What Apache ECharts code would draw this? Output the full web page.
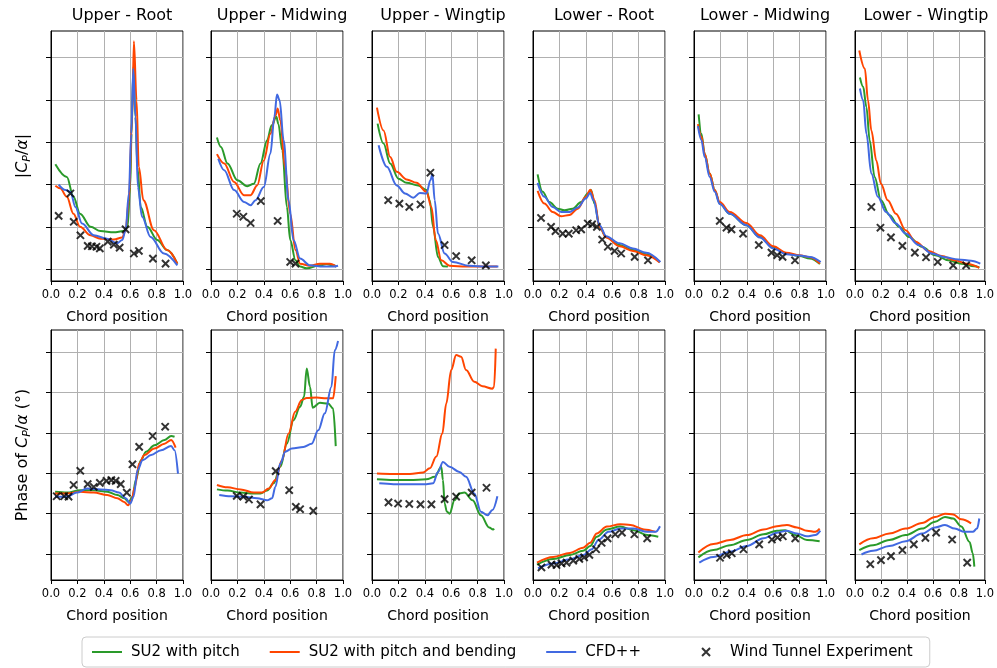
<!DOCTYPE html>
<html><head><meta charset="utf-8">
<script src="https://cdn.jsdelivr.net/npm/echarts@6/dist/echarts.min.js"></script>
<style>html,body{margin:0;padding:0;background:#fff}#c{width:997px;height:668px}</style>
</head><body><div id="c"></div><script>
const panelTitles = ['Upper - Root','Upper - Midwing','Upper - Wingtip','Lower - Root','Lower - Midwing','Lower - Wingtip'];
const seriesNames = ['SU2 with pitch','SU2 with pitch and bending','CFD++','Wind Tunnel Experiment'];
const xTicks = [0, 0.2, 0.4, 0.6, 0.8, 1.0];
const yTicks = [0, 1, 2, 3, 4, 5];
const xLabel = 'Chord position';

// ---- |Cp/alpha| (top row) ----
const magUR_pitch = [[0.033,2.48],[0.12,2.18],[0.17,1.71],[0.22,1.31],[0.30,1.0],[0.375,0.90],[0.476,0.87],[0.55,0.90],[0.58,1.0],[0.60,1.94],[0.61,3.2],[0.625,4.8],[0.64,3.6],[0.655,2.4],[0.68,1.47],[0.73,1.0],[0.805,0.69],[0.88,0.45],[0.957,0.13]];
const magUR_bend = [[0.033,1.97],[0.07,1.91],[0.12,1.71],[0.17,1.31],[0.22,1.0],[0.30,0.80],[0.375,0.72],[0.476,0.70],[0.54,0.75],[0.565,0.92],[0.59,1.63],[0.615,3.6],[0.628,5.39],[0.648,3.99],[0.665,2.42],[0.70,1.63],[0.78,0.92],[0.88,0.45],[0.957,0.13]];
const magUR_cfd = [[0.058,2.0],[0.11,1.87],[0.147,1.83],[0.185,1.47],[0.235,1.08],[0.324,0.80],[0.425,0.72],[0.50,0.61],[0.54,0.69],[0.565,0.92],[0.59,1.79],[0.608,3.2],[0.623,4.74],[0.64,3.6],[0.658,1.94],[0.69,1.24],[0.754,0.76],[0.856,0.37],[0.957,0.09]];
const magUR_exp = [[0.058,1.26],[0.147,1.79],[0.172,1.12],[0.223,0.80],[0.278,0.55],[0.31,0.54],[0.344,0.53],[0.37,0.49],[0.43,0.65],[0.476,0.58],[0.52,0.51],[0.565,0.94],[0.628,0.37],[0.666,0.43],[0.772,0.25],[0.868,0.13]];

const magUM_pitch = [[0.045,3.11],[0.075,2.89],[0.125,2.50],[0.20,2.10],[0.275,1.96],[0.325,2.02],[0.375,2.50],[0.425,3.05],[0.46,3.40],[0.495,3.60],[0.51,3.44],[0.54,2.81],[0.575,1.47],[0.60,0.69],[0.64,0.21],[0.675,0.06],[0.725,0.02],[0.825,0.09],[0.875,0.12],[0.925,0.09],[0.95,0.06]];
const magUM_bend = [[0.045,2.72],[0.10,2.50],[0.175,2.06],[0.25,1.75],[0.30,1.75],[0.35,1.98],[0.40,2.57],[0.45,3.20],[0.49,3.64],[0.505,3.80],[0.525,3.52],[0.56,2.42],[0.60,1.31],[0.64,0.45],[0.675,0.13],[0.75,0.08],[0.825,0.13],[0.90,0.13],[0.95,0.06]];
const magUM_cfd = [[0.055,2.61],[0.10,2.34],[0.175,1.87],[0.25,1.59],[0.30,1.51],[0.3375,1.63],[0.40,1.94],[0.45,2.73],[0.48,3.60],[0.50,4.13],[0.52,3.99],[0.55,3.05],[0.5875,1.63],[0.625,0.69],[0.675,0.25],[0.75,0.09],[0.85,0.06],[0.925,0.06],[0.9625,0.08]];
const magUM_exp = [[0.195,1.31],[0.245,1.24],[0.30,1.09],[0.3775,1.61],[0.505,1.14],[0.60,0.17],[0.64,0.13]];

const magUW_pitch = [[0.0425,3.44],[0.0875,2.97],[0.1375,2.50],[0.20,2.14],[0.2625,2.04],[0.35,1.98],[0.4125,1.87],[0.4375,1.63],[0.4625,1.0],[0.50,0.29],[0.5375,0.07],[0.575,0.06]];
const magUW_bend = [[0.0375,3.82],[0.0875,3.28],[0.1375,2.65],[0.1875,2.30],[0.2625,2.12],[0.3375,2.04],[0.4125,1.83],[0.45,1.47],[0.4825,0.69],[0.525,0.21],[0.5875,0.08],[0.7125,0.06],[0.8625,0.06],[0.95,0.06]];
const magUW_cfd = [[0.05,2.93],[0.1125,2.42],[0.1875,1.98],[0.25,1.79],[0.3125,1.69],[0.3625,1.80],[0.4125,1.79],[0.4425,2.10],[0.4575,2.24],[0.475,1.63],[0.50,0.84],[0.55,0.37],[0.6125,0.17],[0.7375,0.08],[0.8625,0.06],[0.9575,0.06]];
const magUW_exp = [[0.1225,1.63],[0.2075,1.55],[0.2825,1.47],[0.3675,1.53],[0.4425,2.28],[0.55,0.57],[0.6375,0.31],[0.755,0.21],[0.8625,0.09]];

const magLR_pitch = [[0.035,2.24],[0.073,1.83],[0.124,1.59],[0.187,1.43],[0.238,1.39],[0.30,1.43],[0.365,1.59],[0.415,1.79],[0.44,1.87],[0.466,1.55],[0.504,1.0],[0.554,0.76],[0.656,0.57],[0.757,0.45],[0.858,0.35],[0.96,0.17]];
const magLR_bend = [[0.035,1.85],[0.086,1.55],[0.149,1.35],[0.213,1.25],[0.276,1.28],[0.339,1.43],[0.40,1.71],[0.435,1.88],[0.466,1.63],[0.504,1.0],[0.554,0.75],[0.656,0.54],[0.757,0.43],[0.858,0.33],[0.96,0.16]];
const magLR_cfd = [[0.035,2.04],[0.086,1.71],[0.149,1.47],[0.213,1.35],[0.276,1.35],[0.339,1.46],[0.40,1.67],[0.433,1.80],[0.458,1.63],[0.504,1.04],[0.554,0.78],[0.656,0.61],[0.757,0.49],[0.858,0.39],[0.965,0.17]];
const magLR_exp = [[0.061,1.21],[0.137,1.0],[0.17,0.90],[0.225,0.84],[0.271,0.84],[0.327,0.92],[0.365,0.94],[0.415,1.08],[0.448,1.06],[0.484,1.0],[0.524,0.70],[0.567,0.53],[0.618,0.43],[0.668,0.37],[0.77,0.29],[0.871,0.21]];

const magLM_pitch = [[0.035,3.66],[0.056,3.20],[0.081,2.73],[0.119,2.26],[0.157,1.87],[0.195,1.55],[0.271,1.31],[0.397,1.04],[0.499,0.76],[0.60,0.51],[0.70,0.37],[0.80,0.31],[0.878,0.25],[0.954,0.12]];
const magLM_bend = [[0.03,3.43],[0.056,3.13],[0.081,2.73],[0.119,2.26],[0.157,1.87],[0.195,1.59],[0.271,1.35],[0.397,1.09],[0.499,0.80],[0.60,0.54],[0.70,0.39],[0.80,0.33],[0.878,0.28],[0.954,0.13]];
const magLM_cfd = [[0.03,3.38],[0.056,3.05],[0.081,2.65],[0.119,2.18],[0.157,1.83],[0.195,1.54],[0.271,1.31],[0.397,1.04],[0.499,0.75],[0.60,0.49],[0.70,0.35],[0.80,0.32],[0.878,0.29],[0.96,0.17]];
const magLM_exp = [[0.195,1.14],[0.246,0.98],[0.284,0.94],[0.372,0.84],[0.491,0.57],[0.587,0.39],[0.63,0.33],[0.671,0.29],[0.765,0.21]];

const magLW_pitch = [[0.038,4.53],[0.063,4.31],[0.088,3.83],[0.113,3.05],[0.151,2.18],[0.20,1.63],[0.264,1.28],[0.34,1.0],[0.416,0.76],[0.516,0.53],[0.617,0.33],[0.718,0.21],[0.819,0.13],[0.92,0.07],[0.957,0.04]];
const magLW_bend = [[0.033,5.17],[0.076,4.74],[0.10,3.99],[0.126,3.28],[0.164,2.57],[0.20,2.02],[0.252,1.63],[0.315,1.31],[0.39,0.92],[0.466,0.65],[0.567,0.43],[0.668,0.31],[0.768,0.21],[0.869,0.12],[0.957,0.03]];
const magLW_cfd = [[0.038,4.27],[0.063,3.99],[0.088,3.20],[0.126,2.26],[0.176,1.71],[0.239,1.35],[0.315,1.08],[0.39,0.84],[0.491,0.57],[0.592,0.37],[0.693,0.28],[0.794,0.23],[0.894,0.20],[0.965,0.13]];
const magLW_exp = [[0.126,1.47],[0.196,0.98],[0.277,0.75],[0.365,0.55],[0.461,0.39],[0.547,0.28],[0.637,0.17],[0.756,0.09],[0.856,0.09]];

// ---- Phase (bottom row) ----
const phUR_pitch = [[0.031,1.54],[0.12,1.52],[0.22,1.58],[0.324,1.58],[0.426,1.54],[0.503,1.46],[0.554,1.38],[0.59,1.29],[0.617,1.42],[0.643,1.83],[0.68,2.32],[0.72,2.53],[0.783,2.69],[0.86,2.82],[0.91,2.92],[0.936,2.90]];
const phUR_bend = [[0.031,1.50],[0.12,1.50],[0.22,1.54],[0.324,1.52],[0.426,1.46],[0.503,1.38],[0.554,1.29],[0.584,1.21],[0.61,1.33],[0.635,1.66],[0.668,2.24],[0.707,2.45],[0.783,2.61],[0.86,2.73],[0.91,2.82],[0.944,2.63]];
const phUR_cfd = [[0.031,1.42],[0.12,1.42],[0.196,1.52],[0.273,1.62],[0.375,1.60],[0.452,1.58],[0.515,1.52],[0.566,1.38],[0.60,1.25],[0.625,1.42],[0.656,2.08],[0.694,2.32],[0.758,2.45],[0.834,2.57],[0.91,2.67],[0.936,2.57],[0.962,1.99]];
const phUR_exp = [[0.043,1.43],[0.10,1.43],[0.133,1.42],[0.171,1.71],[0.222,2.06],[0.278,1.73],[0.324,1.66],[0.37,1.76],[0.42,1.81],[0.457,1.83],[0.49,1.81],[0.528,1.73],[0.574,1.52],[0.617,2.22],[0.668,2.65],[0.77,2.92],[0.865,3.15]];

const phUM_pitch = [[0.045,1.60],[0.125,1.57],[0.225,1.52],[0.30,1.50],[0.375,1.50],[0.425,1.57],[0.475,1.75],[0.525,2.16],[0.575,2.73],[0.625,3.31],[0.675,3.64],[0.705,3.89],[0.725,4.59],[0.75,4.14],[0.77,3.62],[0.825,3.74],[0.8875,3.72],[0.925,3.60],[0.945,2.67]];
const phUM_bend = [[0.045,1.71],[0.125,1.65],[0.225,1.60],[0.325,1.52],[0.3875,1.52],[0.4375,1.62],[0.4875,1.83],[0.5375,2.32],[0.5875,2.98],[0.6375,3.52],[0.6875,3.81],[0.725,3.86],[0.80,3.87],[0.875,3.85],[0.925,3.85],[0.945,4.40]];
const phUM_cfd = [[0.0625,1.46],[0.15,1.43],[0.25,1.42],[0.35,1.38],[0.425,1.33],[0.4625,1.38],[0.4875,1.66],[0.525,2.24],[0.5625,2.53],[0.6125,2.61],[0.70,2.65],[0.7625,2.73],[0.8125,3.06],[0.8625,3.48],[0.9125,4.14],[0.9375,5.04],[0.9625,5.27]];
const phUM_exp = [[0.195,1.44],[0.245,1.42],[0.2875,1.35],[0.375,1.23],[0.49,2.05],[0.5925,1.58],[0.6425,1.17],[0.675,1.11],[0.775,1.07]];

const phUW_pitch = [[0.0375,1.85],[0.1625,1.83],[0.2875,1.83],[0.4125,1.85],[0.475,1.91],[0.525,2.16],[0.5375,1.83],[0.55,1.25],[0.5675,1.05],[0.5875,1.00],[0.625,1.33],[0.6625,1.50],[0.70,1.52],[0.7625,1.33],[0.825,0.96],[0.8875,0.66],[0.9175,0.61],[0.925,0.63]];
const phUW_bend = [[0.0375,1.99],[0.1625,1.98],[0.2875,1.98],[0.3875,2.02],[0.4375,2.12],[0.4875,2.41],[0.5325,2.98],[0.5625,3.72],[0.60,4.55],[0.6375,4.92],[0.675,4.88],[0.7125,4.55],[0.775,4.26],[0.8375,4.15],[0.9125,4.09],[0.925,4.14],[0.9375,5.08]];
const phUW_cfd = [[0.055,1.75],[0.1625,1.73],[0.2875,1.73],[0.4125,1.73],[0.4625,1.75],[0.50,2.03],[0.5375,2.28],[0.5875,2.16],[0.6625,2.03],[0.7125,1.91],[0.775,1.50],[0.825,1.05],[0.875,0.96],[0.9125,1.09],[0.95,1.43]];
const phUW_exp = [[0.125,1.28],[0.1975,1.25],[0.2825,1.24],[0.3675,1.23],[0.45,1.23],[0.55,1.36],[0.6375,1.42],[0.755,1.52],[0.8675,1.64]];

const phLR_pitch = [[0.03,-0.26],[0.153,-0.12],[0.28,-0.02],[0.38,0.08],[0.433,0.20],[0.483,0.43],[0.56,0.61],[0.66,0.68],[0.763,0.59],[0.865,0.47],[0.949,0.43]];
const phLR_bend = [[0.03,-0.21],[0.153,-0.07],[0.28,0.03],[0.38,0.16],[0.433,0.28],[0.483,0.51],[0.56,0.68],[0.66,0.74],[0.738,0.72],[0.84,0.61],[0.929,0.55]];
const phLR_cfd = [[0.038,-0.35],[0.153,-0.23],[0.28,-0.13],[0.38,-0.02],[0.445,0.12],[0.496,0.35],[0.573,0.55],[0.66,0.63],[0.763,0.63],[0.865,0.55],[0.929,0.55],[0.962,0.69]];
const phLR_exp = [[0.064,-0.33],[0.14,-0.26],[0.178,-0.27],[0.216,-0.23],[0.254,-0.21],[0.305,-0.16],[0.351,-0.12],[0.387,-0.08],[0.427,-0.02],[0.478,0.12],[0.52,0.28],[0.565,0.39],[0.623,0.49],[0.674,0.53],[0.768,0.49],[0.865,0.39]];

const phLM_pitch = [[0.033,-0.08],[0.147,0.10],[0.273,0.22],[0.40,0.35],[0.527,0.49],[0.628,0.58],[0.691,0.59],[0.767,0.47],[0.856,0.35],[0.952,0.32]];
const phLM_bend = [[0.033,0.04],[0.147,0.25],[0.273,0.35],[0.40,0.47],[0.527,0.61],[0.628,0.69],[0.704,0.72],[0.78,0.66],[0.856,0.58],[0.919,0.55],[0.952,0.63]];
const phLM_cfd = [[0.04,-0.21],[0.147,-0.07],[0.273,0.06],[0.40,0.20],[0.527,0.39],[0.628,0.53],[0.704,0.58],[0.78,0.51],[0.856,0.44],[0.919,0.47],[0.957,0.58]];
const phLM_exp = [[0.197,-0.09],[0.248,-0.02],[0.286,0.02],[0.375,0.12],[0.494,0.24],[0.59,0.36],[0.633,0.41],[0.673,0.44],[0.767,0.39]];

const phLW_pitch = [[0.033,0.10],[0.139,0.22],[0.264,0.35],[0.39,0.47],[0.516,0.63],[0.617,0.80],[0.693,0.92],[0.756,0.88],[0.819,0.68],[0.882,0.30],[0.907,0.02],[0.919,-0.31]];
const phLW_bend = [[0.033,0.24],[0.139,0.39],[0.264,0.51],[0.39,0.63],[0.516,0.77],[0.617,0.92],[0.693,1.0],[0.756,0.98],[0.819,0.86],[0.894,0.76]];
const phLW_cfd = [[0.05,-0.01],[0.139,0.08],[0.264,0.20],[0.39,0.32],[0.516,0.51],[0.617,0.66],[0.693,0.72],[0.768,0.63],[0.844,0.55],[0.907,0.55],[0.94,0.63],[0.957,0.88]];
const phLW_exp = [[0.118,-0.25],[0.20,-0.15],[0.277,-0.05],[0.365,0.10],[0.453,0.24],[0.542,0.40],[0.625,0.53],[0.748,0.36],[0.864,-0.21]];

const panels = [
  [magUR_pitch, magUR_bend, magUR_cfd, magUR_exp],
  [magUM_pitch, magUM_bend, magUM_cfd, magUM_exp],
  [magUW_pitch, magUW_bend, magUW_cfd, magUW_exp],
  [magLR_pitch, magLR_bend, magLR_cfd, magLR_exp],
  [magLM_pitch, magLM_bend, magLM_cfd, magLM_exp],
  [magLW_pitch, magLW_bend, magLW_cfd, magLW_exp],
  [phUR_pitch, phUR_bend, phUR_cfd, phUR_exp],
  [phUM_pitch, phUM_bend, phUM_cfd, phUM_exp],
  [phUW_pitch, phUW_bend, phUW_cfd, phUW_exp],
  [phLR_pitch, phLR_bend, phLR_cfd, phLR_exp],
  [phLM_pitch, phLM_bend, phLM_cfd, phLM_exp],
  [phLW_pitch, phLW_bend, phLW_cfd, phLW_exp]
];

// ---- layout / style ----
const FONT = 'DejaVu Sans';
const colors = ['#2a9a2a', '#ff4500', '#4169e1', '#000000'];
const colLefts = [51, 211, 372, 533, 694, 855];
const panelW = 132, panelH = 250;
const rowTops = [31, 330];
const rowRange = [[-0.28, 5.63], [-0.64, 5.54]];
const xPath = 'path://M0,0L0,0M10,10L10,10M2,2L8,8M8,2L2,8';
const legendLineIcon = 'path://M0,0L0,0M30,14L30,14M0,6L30,6L30,8L0,8Z';
const legendXIcon = 'path://M0,0L0,0M30,14L30,14M11,3L19,11M19,3L11,11';

const grids = [], xAxes = [], yAxes = [], series = [], titles = [];
for (let p = 0; p < 12; p++) {
  const row = Math.floor(p / 6), col = p % 6;
  grids.push({left: colLefts[col], top: rowTops[row], width: panelW, height: panelH,
    show: true, borderColor: '#000', borderWidth: 1, backgroundColor: 'transparent'});
  xAxes.push({type: 'value', gridIndex: p, min: xTicks[0], max: xTicks[xTicks.length - 1], interval: 0.2,
    name: xLabel, nameLocation: 'middle', nameGap: 29,
    nameTextStyle: {fontFamily: FONT, fontSize: 14, color: '#000'},
    axisLine: {show: true, onZero: false, lineStyle: {color: '#000'}},
    axisTick: {show: true, length: 4, lineStyle: {color: '#000'}},
    axisLabel: {fontFamily: FONT, fontSize: 11.5, color: '#000', margin: 8, formatter: v => v.toFixed(1),
      showMinLabel: true, showMaxLabel: true, hideOverlap: false},
    splitLine: {show: true, lineStyle: {color: '#b0b0b0', width: 1}}});
  const y = {type: 'value', gridIndex: p, min: rowRange[row][0], max: rowRange[row][1],
    axisLine: {show: true, onZero: false, lineStyle: {color: '#000'}},
    axisTick: {show: true, length: 5, customValues: yTicks, lineStyle: {color: '#000'}},
    axisLabel: {show: false},
    splitLine: {show: true, lineStyle: {color: '#b0b0b0', width: 1}}};
  if (col === 0) {
    y.name = row === 0 ? '|{i|C}{s|P}/{i|α}|' : 'Phase of {i|C}{s|P}/{i|α} (°)';
    y.nameLocation = 'middle';
    y.nameRotate = 90;
    y.nameGap = 18;
    y.nameTextStyle = {fontFamily: FONT, fontSize: 16, color: '#000', lineHeight: 20,
      rich: {
        i: {fontFamily: FONT, fontSize: 16, fontStyle: 'italic', color: '#000', lineHeight: 20},
        s: {fontFamily: FONT, fontSize: 11, fontStyle: 'italic', color: '#000', lineHeight: 11, verticalAlign: 'bottom'}
      }};
  }
  yAxes.push(y);
  if (row === 0) {
    titles.push({text: panelTitles[col], left: colLefts[col] + panelW / 2, top: 3, textAlign: 'center',
      textStyle: {fontFamily: FONT, fontSize: 16, fontWeight: 'normal', color: '#000'}});
  }
  for (let s = 0; s < 3; s++) {
    series.push({name: seriesNames[s], type: 'line', xAxisIndex: p, yAxisIndex: p, data: panels[p][s],
      symbol: 'none', smooth: 0.35, smoothMonotone: 'x', clip: true,
      lineStyle: {color: colors[s], width: 2}, itemStyle: {color: colors[s]}, z: 2 + s});
  }
  series.push({name: seriesNames[3], type: 'scatter', xAxisIndex: p, yAxisIndex: p, data: panels[p][3],
    symbol: xPath, symbolSize: 12,
    itemStyle: {color: '#000', borderColor: '#000', borderWidth: 2}, z: 6});
}

const chart = echarts.init(document.getElementById('c'), null, {renderer: 'canvas'});
chart.setOption({
  animation: false,
  backgroundColor: '#fff',
  title: titles,
  grid: grids,
  xAxis: xAxes,
  yAxis: yAxes,
  legend: {
    left: 82, top: 637, orient: 'horizontal',
    padding: [7, 17, 7, 10], itemGap: 30, itemWidth: 30, itemHeight: 14,
    borderColor: '#cccccc', borderWidth: 1, borderRadius: 4, backgroundColor: '#fff',
    textStyle: {fontFamily: FONT, fontSize: 15, color: '#000', padding: [0, 0, 0, 4]},
    formatter: name => (name === seriesNames[2] ? name + '    ' : name),
    data: [
      {name: seriesNames[0], icon: legendLineIcon, itemStyle: {color: colors[0], borderWidth: 0}},
      {name: seriesNames[1], icon: legendLineIcon, itemStyle: {color: colors[1], borderWidth: 0}},
      {name: seriesNames[2], icon: legendLineIcon, itemStyle: {color: colors[2], borderWidth: 0}},
      {name: seriesNames[3], icon: legendXIcon, itemStyle: {color: '#000', borderColor: '#000', borderWidth: 2}}
    ]
  },
  series: series
});
</script></body></html>
